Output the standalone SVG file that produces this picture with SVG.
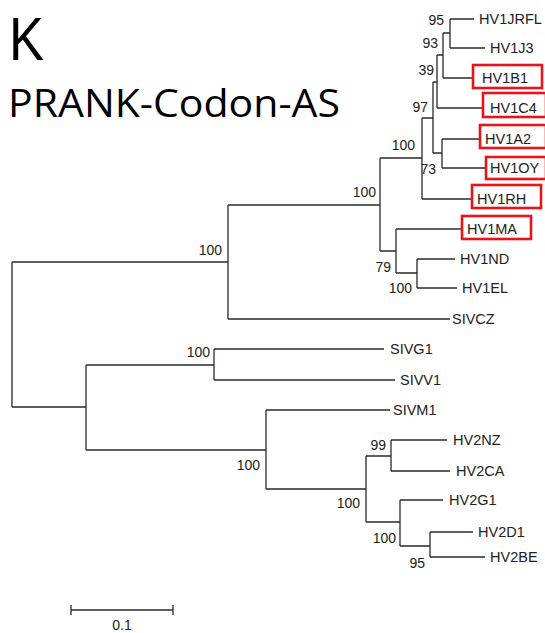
<svg xmlns="http://www.w3.org/2000/svg" width="545" height="633" viewBox="0 0 545 633">
<style>
.br{fill:none;stroke:#2a2a2a;stroke-width:1.3}
.tx{font-family:"Liberation Sans",Arial,sans-serif;font-size:14.5px;fill:#222}
.bs{font-family:"Liberation Sans",Arial,sans-serif;font-size:14px;fill:#222;text-anchor:end}
.bx{fill:none;stroke:#e8141b;stroke-width:2.6}
.tt{font-family:"Open Sans","Noto Sans",sans-serif;fill:#000}
</style>
<rect width="545" height="633" fill="#fff"/>
<g id="title">
<text x="9" y="60" font-family="Liberation Sans, Arial, sans-serif" font-size="62" textLength="35" lengthAdjust="spacingAndGlyphs" fill="#000">K</text>
<text class="tt" x="8" y="117" font-size="38" textLength="332" lengthAdjust="spacingAndGlyphs">PRANK-Codon-AS</text>
</g>
<g id="connectors" class="br">
<path d="M12,262V407"/>
<path d="M12,262H228M228,205V319M228,205H380M228,319H450"/>
<path d="M380,158V251M380,158H422M380,251H396"/>
<path d="M422,118V199M422,118H433M422,199H472"/>
<path d="M433,82V153M433,82H437M433,153H442"/>
<path d="M437,55V108M437,55H443M437,108H483"/>
<path d="M443,33V78M443,33H450M443,78H473"/>
<path d="M450,19V48M450,19H474M450,48H485"/>
<path d="M442,139V168M442,139H480M442,168H486"/>
<path d="M396,229V273M396,229H462M396,273H417"/>
<path d="M417,259V288M417,259H455M417,288H457"/>
<path d="M12,407H86M86,365V450M86,365H214M86,450H266"/>
<path d="M214,349V380M214,349H384M214,380H395"/>
<path d="M266,410V489M266,410H390M266,489H366"/>
<path d="M366,456V522M366,456H391M366,522H400"/>
<path d="M391,440V471M391,440H447M391,471H450"/>
<path d="M400,500V546M400,500H443M400,546H430"/>
<path d="M430,532V557M430,532H473M430,557H485"/>
</g>
<g id="supports">
<text class="bs" x="444" y="25">95</text>
<text class="bs" x="438" y="48">93</text>
<text class="bs" x="434" y="75">39</text>
<text class="bs" x="428" y="112">97</text>
<text class="bs" x="415" y="150">100</text>
<text class="bs" x="436" y="174">73</text>
<text class="bs" x="376" y="197">100</text>
<text class="bs" x="222" y="255">100</text>
<text class="bs" x="391" y="272">79</text>
<text class="bs" x="412" y="293">100</text>
<text class="bs" x="210" y="357">100</text>
<text class="bs" x="260" y="470">100</text>
<text class="bs" x="386" y="450">99</text>
<text class="bs" x="360" y="508">100</text>
<text class="bs" x="396" y="543">100</text>
<text class="bs" x="425" y="568">95</text>
</g>
<g id="HV1JRFL"><text class="tx" x="479" y="24">HV1JRFL</text></g>
<g id="HV1J3"><text class="tx" x="490" y="53">HV1J3</text></g>
<g id="HV1B1"><rect class="bx" x="473" y="65" width="69" height="23"/><text class="tx" x="482" y="83">HV1B1</text></g>
<g id="HV1C4"><rect class="bx" x="483" y="93" width="63" height="24"/><text class="tx" x="490" y="113">HV1C4</text></g>
<g id="HV1A2"><rect class="bx" x="480" y="125" width="66" height="23"/><text class="tx" x="485" y="144">HV1A2</text></g>
<g id="HV1OY"><rect class="bx" x="486" y="157" width="60" height="22"/><text class="tx" x="490" y="173">HV1OY</text></g>
<g id="HV1RH"><rect class="bx" x="472" y="185" width="69" height="23"/><text class="tx" x="477" y="204">HV1RH</text></g>
<g id="HV1MA"><rect class="bx" x="462" y="216" width="69" height="23"/><text class="tx" x="467" y="234">HV1MA</text></g>
<g id="HV1ND"><text class="tx" x="460" y="264">HV1ND</text></g>
<g id="HV1EL"><text class="tx" x="462" y="293">HV1EL</text></g>
<g id="SIVCZ"><text class="tx" x="452" y="324">SIVCZ</text></g>
<g id="SIVG1"><text class="tx" x="390" y="354">SIVG1</text></g>
<g id="SIVV1"><text class="tx" x="400" y="385">SIVV1</text></g>
<g id="SIVM1"><text class="tx" x="393" y="415">SIVM1</text></g>
<g id="HV2NZ"><text class="tx" x="453" y="445">HV2NZ</text></g>
<g id="HV2CA"><text class="tx" x="456" y="476">HV2CA</text></g>
<g id="HV2G1"><text class="tx" x="449" y="505">HV2G1</text></g>
<g id="HV2D1"><text class="tx" x="478" y="537">HV2D1</text></g>
<g id="HV2BE"><text class="tx" x="490" y="562">HV2BE</text></g>
<g id="scalebar">
<path class="br" d="M71,610H173M71,605V615M173,605V615"/>
<text class="bs" x="122" y="630" style="text-anchor:middle">0.1</text>
</g>
</svg>
